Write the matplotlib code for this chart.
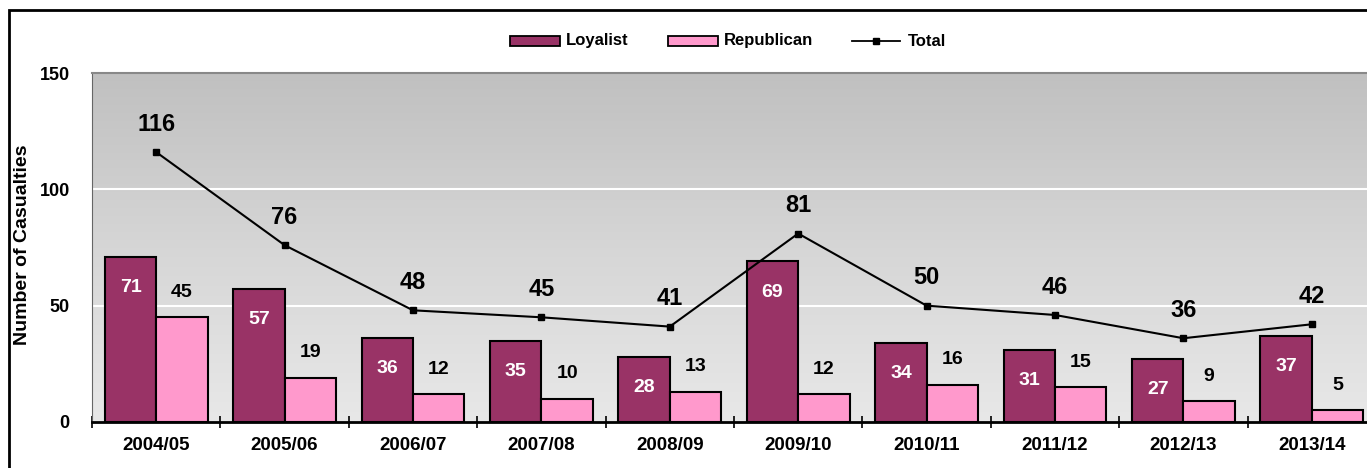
import matplotlib

matplotlib.use("Agg")
import matplotlib.pyplot as plt
import numpy as np
from matplotlib.colors import LinearSegmentedColormap
from matplotlib.lines import Line2D
from matplotlib.patches import Rectangle

plt.rcParams["font.family"] = ["Liberation Sans", "DejaVu Sans"]
plt.rcParams["font.weight"] = "bold"

YEARS = ["2004/05", "2005/06", "2006/07", "2007/08", "2008/09",
         "2009/10", "2010/11", "2011/12", "2012/13", "2013/14"]
LOYALIST = [71, 57, 36, 35, 28, 69, 34, 31, 27, 37]
REPUBLICAN = [45, 19, 12, 10, 13, 12, 16, 15, 9, 5]
TOTAL = [116, 76, 48, 45, 41, 81, 50, 46, 36, 42]

LOY_C = "#993366"
REP_C = "#ff99cc"

W, H = 1367, 468


def fx(px):
    return px / W


def fy(py):
    return 1 - py / H


fig = plt.figure(figsize=(W / 100, H / 100), dpi=100, facecolor="white")
# plot area runs past the right edge of the picture, as in the original
ax = fig.add_axes((fx(92), 46 / H, 1284 / W, 349 / H))

x = np.arange(len(YEARS))
w = 0.4

# gradient background
grad = LinearSegmentedColormap.from_list("bg", ["#e8e8e8", "#d6d6d6", "#c0c0c0"])
ax.imshow(np.linspace(0, 1, 256).reshape(-1, 1), cmap=grad, origin="lower",
          aspect="auto", extent=(-0.5, len(YEARS) - 0.5, 0, 150), zorder=0)

for g in (50, 100):
    ax.axhline(g, color="white", lw=1.5, zorder=1)

ax.bar(x - w / 2, LOYALIST, w, color=LOY_C, edgecolor="black", lw=1.5, zorder=3)
ax.bar(x + w / 2, REPUBLICAN, w, color=REP_C, edgecolor="black", lw=1.5, zorder=3)
ax.plot(x, TOTAL, color="black", lw=1.5, marker="s", ms=5, zorder=4)

for i in x:
    ax.annotate(str(LOYALIST[i]), (i - w / 2, LOYALIST[i]), xytext=(0, -22),
                textcoords="offset points", ha="center", va="center",
                color="white", fontsize=14, fontweight="bold", zorder=5)
    ax.annotate(str(REPUBLICAN[i]), (i + w / 2, REPUBLICAN[i]), xytext=(0, 18),
                textcoords="offset points", ha="center", va="center",
                color="black", fontsize=14, fontweight="bold", zorder=5)
    ax.annotate(str(TOTAL[i]), (i, TOTAL[i]), xytext=(0, 20),
                textcoords="offset points", ha="center", va="center",
                color="black", fontsize=17, fontweight="bold", zorder=5)

ax.set_xlim(-0.5, len(YEARS) - 0.5)
ax.set_ylim(0, 150)
ax.set_yticks([0, 50, 100, 150])
ax.tick_params(axis="y", length=0, labelsize=13, pad=16)
ax.set_xticks(x)
ax.set_xticklabels(YEARS)
ax.tick_params(axis="x", length=0, labelsize=13.5, pad=11)
ax.set_xticks(np.arange(len(YEARS) + 1) - 0.5, minor=True)
ax.tick_params(axis="x", which="minor", direction="inout", length=8, width=1.2)

ax.spines["right"].set_visible(False)
ax.spines["top"].set_color("#888888")
ax.spines["top"].set_linewidth(1.5)
ax.spines["left"].set_color("#666666")
ax.spines["left"].set_linewidth(0.8)
ax.spines["bottom"].set_linewidth(2)

fig.text(fx(23), fy(245), "Number of Casualties", rotation=90,
         ha="center", va="center", fontsize=14, fontweight="bold")

# legend drawn in figure pixels to match the original spacing
fig.add_artist(Rectangle((fx(510), fy(46)), 50 / W, 10 / H, transform=fig.transFigure,
                         facecolor=LOY_C, edgecolor="black", lw=1.3))
fig.text(fx(566), fy(41), "Loyalist", ha="left", va="center", fontsize=12)
fig.add_artist(Rectangle((fx(668), fy(46)), 50 / W, 10 / H, transform=fig.transFigure,
                         facecolor=REP_C, edgecolor="black", lw=1.3))
fig.text(fx(724), fy(41), "Republican", ha="left", va="center", fontsize=12)
fig.add_artist(Line2D([fx(852), fx(900)], [fy(41), fy(41)], transform=fig.transFigure,
                      color="black", lw=1.3))
fig.add_artist(Line2D([fx(876)], [fy(41)], transform=fig.transFigure,
                      color="black", marker="s", ms=5))
fig.text(fx(908), fy(41), "Total", ha="left", va="center", fontsize=12)

# outer chart border (cut off at right and bottom)
fig.add_artist(Rectangle((fx(9), -0.1), 1.2, 1 - 10 / H + 0.1,
                         transform=fig.transFigure, fill=False,
                         edgecolor="black", lw=2))

fig.savefig("out.png", dpi=100, facecolor="white")
